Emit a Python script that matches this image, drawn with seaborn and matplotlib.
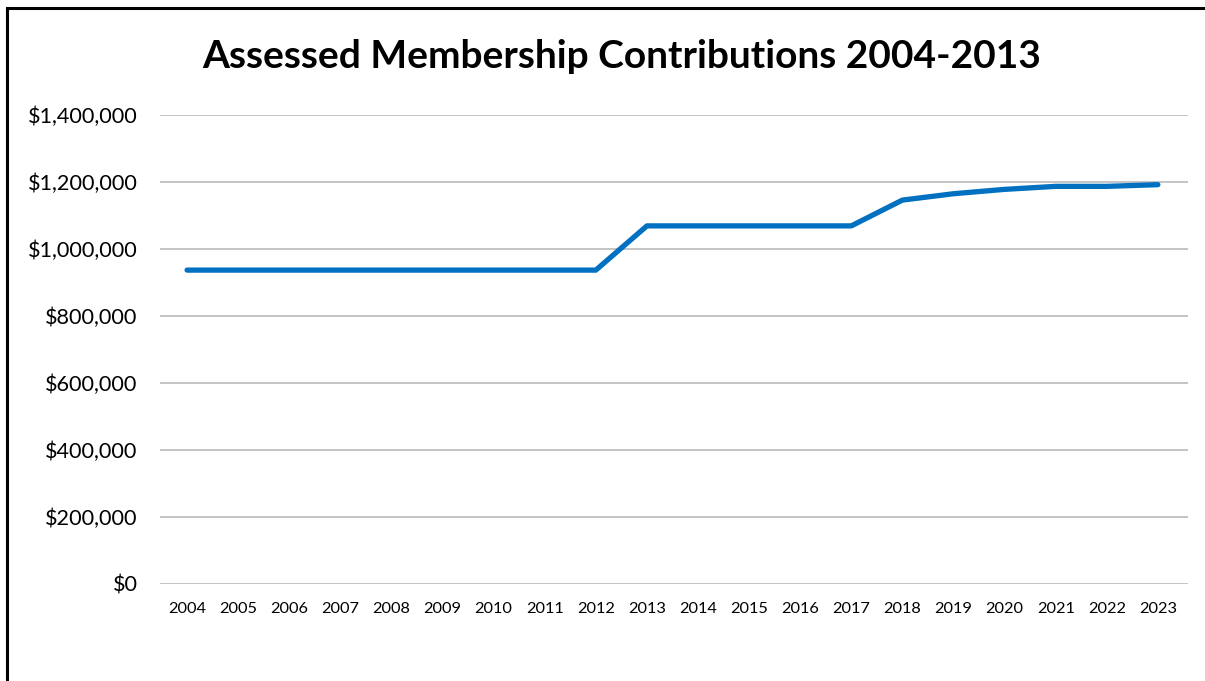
import matplotlib
matplotlib.use("Agg")
import matplotlib.pyplot as plt
import matplotlib.ticker as mticker
from matplotlib.lines import Line2D
import seaborn as sns
import pandas as pd

# data
years = [str(y) for y in range(2004, 2024)]
contributions = [937000, 937000, 937000, 937000, 937000, 937000, 937000, 937000, 937000,
                 1069000, 1069000, 1069000, 1069000, 1069000,
                 1146000, 1165000, 1178000, 1187000, 1187000, 1192000]
y_ticks = [0, 200000, 400000, 600000, 800000, 1000000, 1200000, 1400000]
title_text = "Assessed Membership Contributions 2004-2013"

sns.set_theme(style="white")
plt.rcParams['font.family'] = ['Lato', 'DejaVu Sans']

df = pd.DataFrame({"year": years, "amount": contributions})
df["pos"] = range(len(df))

fig = plt.figure(figsize=(12.05, 6.81), dpi=100)
ax = fig.add_axes([160 / 1205, 1 - 584 / 681, 1028 / 1205, (584 - 115) / 681])

sns.lineplot(data=df, x="pos", y="amount", ax=ax, color="#0070C0", linewidth=3.8,
             solid_capstyle="round", solid_joinstyle="round")

ax.set_ylim(0, 1400000)
ax.set_xlim(-0.53, 19.59)
ax.set_yticks(y_ticks)
ax.yaxis.set_major_formatter(mticker.FuncFormatter(lambda v, p: f"${v:,.0f}"))
ax.set_xticks(df["pos"])
ax.set_xticklabels(years)
ax.grid(axis="y", color="#C4C4C4", linewidth=1.4)
ax.set_axisbelow(True)
for s in ax.spines.values():
    s.set_visible(False)
ax.tick_params(axis="y", length=0, pad=16, labelsize=15.6, labelcolor="black")
ax.tick_params(axis="x", length=0, pad=13, labelsize=11.8, labelcolor="black")
ax.set_xlabel("")
ax.set_ylabel("")

fig.text(622 / 1205, 1 - 57 / 681, title_text, ha="center", va="center",
         fontsize=28, fontweight="bold", color="black")

# outer chart border: only left and top edges show in the picture
bx = 7 / 1205
by = 1 - 8 / 681
fig.add_artist(Line2D([bx, bx], [0, by], transform=fig.transFigure, color="black", linewidth=2.2))
fig.add_artist(Line2D([bx, 1], [by, by], transform=fig.transFigure, color="black", linewidth=2.2,
                      solid_capstyle="projecting"))

fig.savefig("out.png", dpi=100, facecolor="white")
